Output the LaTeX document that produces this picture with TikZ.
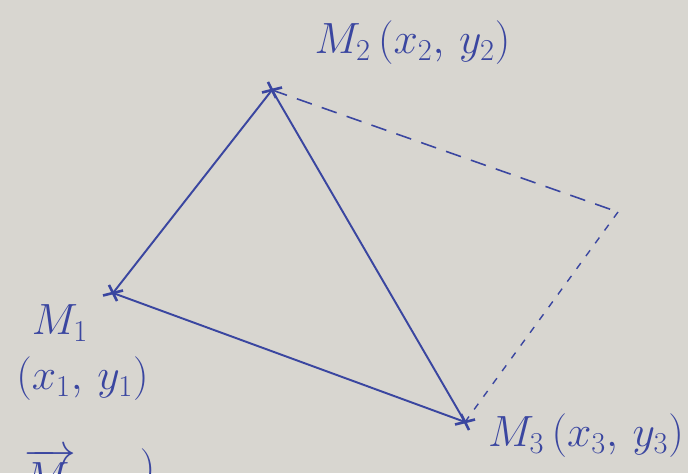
\documentclass[tikz,border=0pt]{standalone}
\usetikzlibrary{calc}
\definecolor{inkblue}{RGB}{58,70,160}
\definecolor{paper}{RGB}{216,214,208}
\begin{document}
\begin{tikzpicture}[x=1cm,y=1cm,
  ink/.style={draw=inkblue, line width=1.1pt},
  lbl/.style={text=inkblue, font=\fontsize{26}{30}\selectfont, inner sep=0pt},
  xmark/.style={ink, line width=1.5pt}]
\useasboundingbox (0,0) rectangle (13.76,9.46);
\clip (0,0) rectangle (13.76,9.46);
\fill[paper] (0,0) rectangle (13.76,9.46);
\coordinate (M1) at (2.26,3.60);
\coordinate (M2) at (5.44,7.66);
\coordinate (M3) at (9.30,1.02);
\coordinate (D) at (12.36,5.22);
\draw[ink] (M1) -- (M2) -- (M3) -- cycle;
\draw[ink, line width=0.9pt, dash pattern=on 9pt off 6pt] (M2) -- (D);
\draw[ink, line width=0.8pt, dash pattern=on 4pt off 5pt] (D) -- (M3);
\foreach \p in {M1,M2,M3}{
  \draw[xmark] ($(\p)+(-0.2,-0.05)$) -- ($(\p)+(0.2,0.05)$);
  \draw[xmark] ($(\p)+(-0.08,0.16)$) -- ($(\p)+(0.08,-0.16)$);
}
\node[lbl] (l2) at (8.25,8.6) {$M_2\,(x_2,\,y_2)$};
\node[lbl] (l1a) at (1.2,3.0) {$M_1$};
\node[lbl] (l1b) at (1.65,1.88) {$(x_1,\,y_1)$};
\node[lbl] (l3) at (11.72,0.74) {$M_3\,(x_3,\,y_3)$};
\node[lbl] (l4) at (1.0,0.05) {$\overrightarrow{M\,}$};
\node[lbl] (l5) at (2.95,0.05) {$)$};
\end{tikzpicture}
\end{document}
